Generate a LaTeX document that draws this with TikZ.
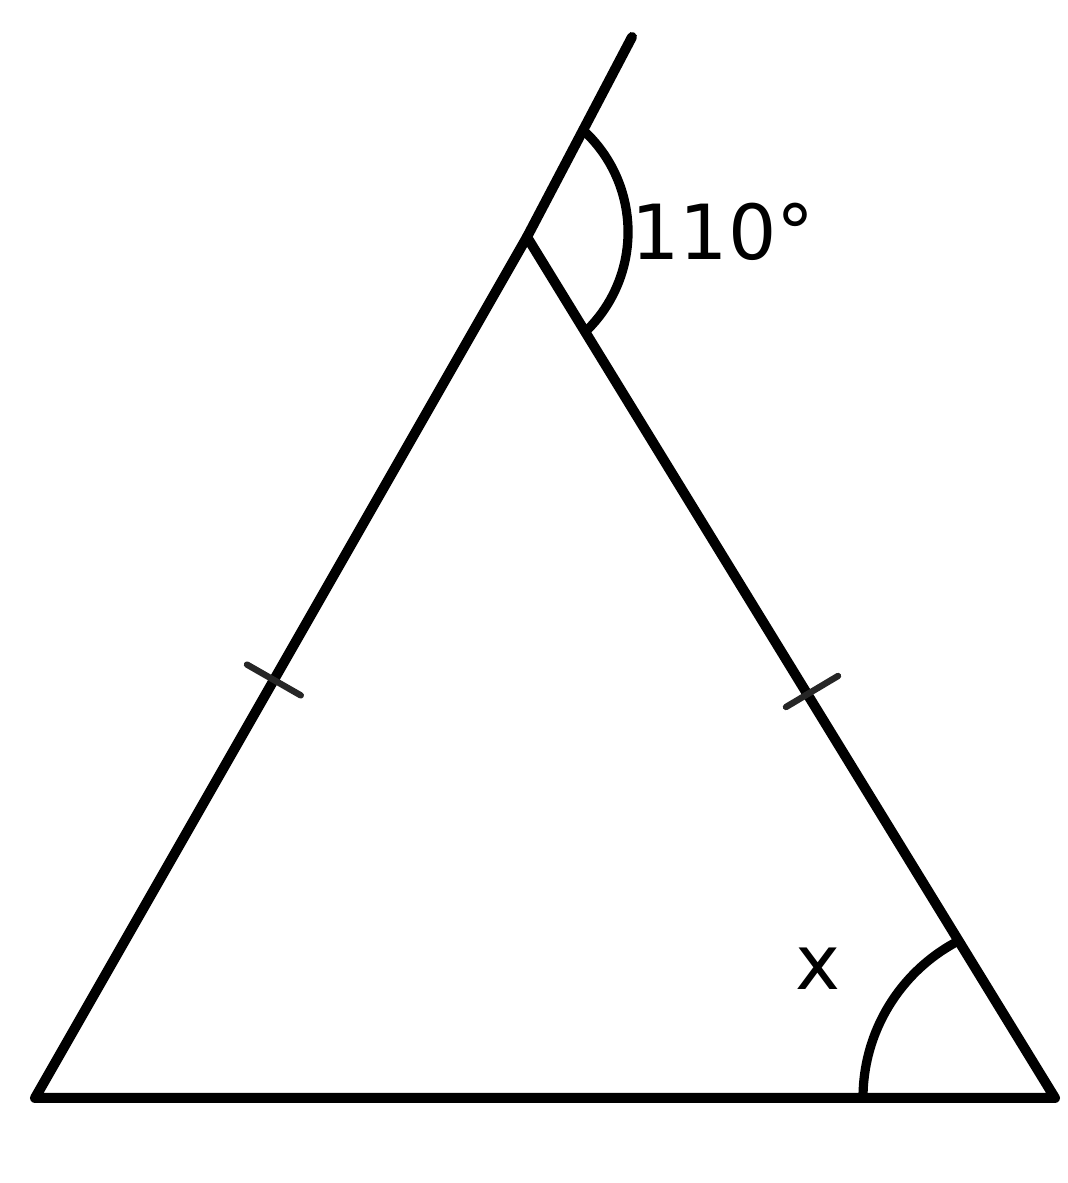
\documentclass[tikz,border=0pt]{standalone}
\usepackage{fontspec}
\setmainfont{DejaVu Sans}
\begin{document}
\begin{tikzpicture}[x=0.5pt,y=0.5pt,
  edge/.style={line width=5pt,line cap=round,line join=round},
  anglearc/.style={line width=4.6pt,line cap=round},
  tick/.style={line width=3.2pt,line cap=round,black!85},
  lbl/.style={inner sep=0pt,anchor=base west,font=\fontsize{38pt}{40pt}\selectfont}]
\useasboundingbox (0,0) rectangle (1068,1183);
% vertices
\coordinate (BL) at (35,85);
\coordinate (BR) at (1055,85);
\coordinate (A) at (527,946);
\coordinate (E) at (632,1146);
% triangle and extension
\draw[edge] (A) -- (BL) -- (BR) -- cycle;
\draw[edge] (A) -- (E);
% exterior angle arc at apex
\coordinate (P1) at (583.1,1052.9);
\draw[anglearc] (P1) arc[start angle=47.6,end angle=-46.4,radius=138];
% angle x arc
\coordinate (P2) at (863,85);
\draw[anglearc] (P2) arc[start angle=180,end angle=117.4,radius=177];
% equal-length ticks
\coordinate (T1a) at (247,518.4);
\coordinate (T1b) at (300.8,487.6);
\coordinate (T2a) at (786,476);
\coordinate (T2b) at (838,507);
\draw[tick] (T1a) -- (T1b);
\draw[tick] (T2a) -- (T2b);
% labels
\node[lbl] (l110) at (631,923) {110°};
\node[lbl] (lx) at (795,193) {x};
\end{tikzpicture}
\end{document}
